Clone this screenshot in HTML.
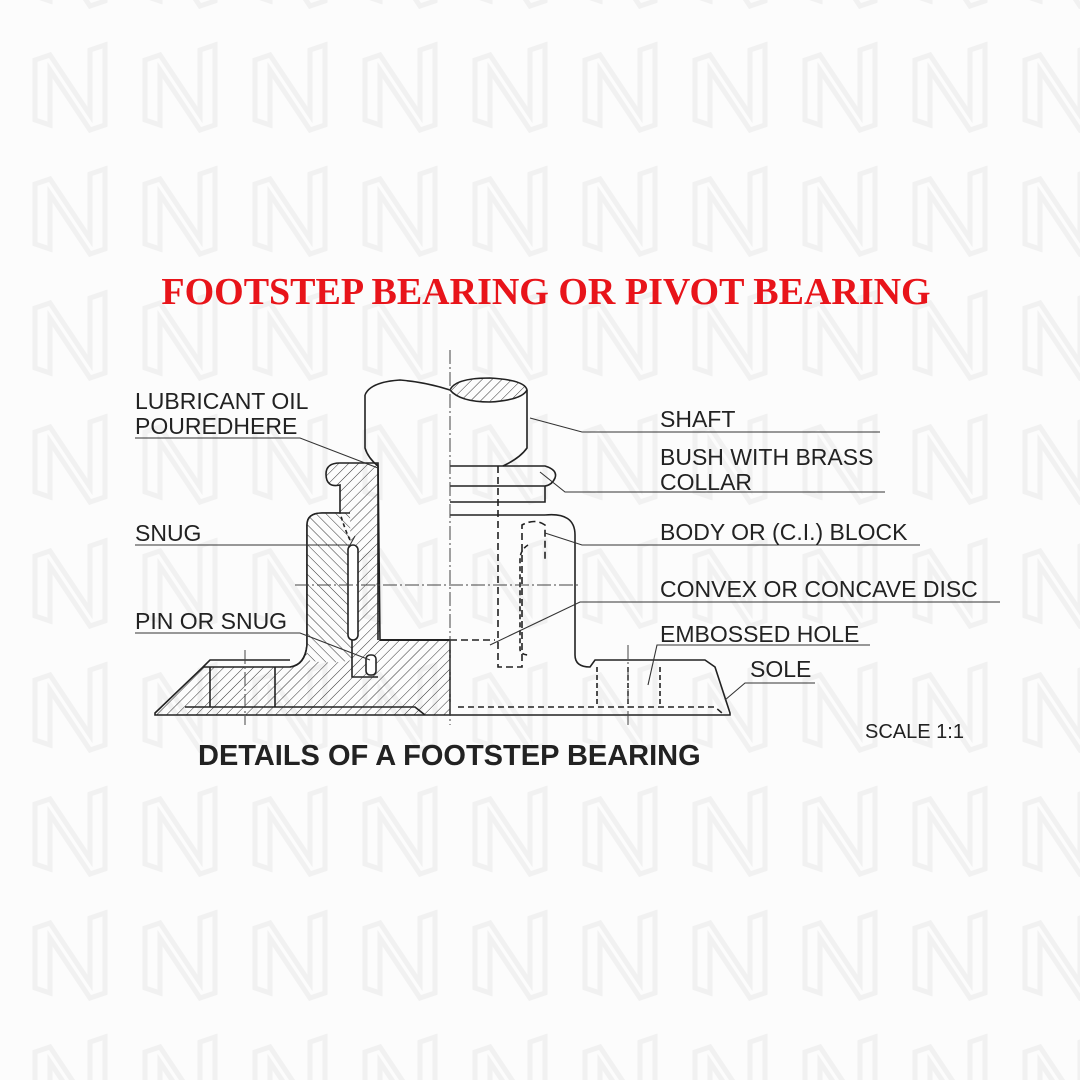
<!DOCTYPE html>
<html><head><meta charset="utf-8"><style>
html,body{margin:0;padding:0;background:#fff}
svg{display:block}
text{font-family:"Liberation Sans",sans-serif;fill:#222}
</style></head><body>
<svg width="1080" height="1080" viewBox="0 0 1080 1080" xmlns="http://www.w3.org/2000/svg">
<defs>
<pattern id="h1" width="7" height="7" patternUnits="userSpaceOnUse" patternTransform="rotate(45)"><line x1="0" y1="0" x2="0" y2="7" stroke="#333" stroke-width="1"/></pattern>
<pattern id="h2" width="7" height="7" patternUnits="userSpaceOnUse" patternTransform="rotate(-45)"><line x1="0" y1="0" x2="0" y2="7" stroke="#333" stroke-width="1"/></pattern>
<pattern id="wm" width="110" height="124" patternUnits="userSpaceOnUse" x="20" y="20">
<path d="M15 100 L15 40 L30 35 L70 95 L70 30 L85 25 L85 105 L70 110 L30 50 L30 105 Z" fill="none" stroke="#f1f1f1" stroke-width="5"/>
</pattern>
</defs>
<rect width="1080" height="1080" fill="#fcfcfc"/>
<rect width="1080" height="1080" fill="url(#wm)"/>
<text x="546" y="304" text-anchor="middle" style="font-family:'Liberation Serif',serif;font-weight:bold;font-size:38px;fill:#e8141a">FOOTSTEP BEARING OR PIVOT BEARING</text>

<g stroke="#222" stroke-width="1.6" fill="none">
<path d="M155 713 L203 667 L290 667 Q305 665 307 645 L307 525 Q307 513 322 513 L340 513 L340 485 Q326 488 326 474 Q326 463 340 463 L378 463 L380 640 L450 640 L450 715 L155 715 Z" fill="url(#h1)"/>
<path d="M307 645 L307 525 Q307 513 322 513 L350 513 L352 660 Q330 665 307 660 Z" fill="#fcfcfc" stroke="none"/>
<path d="M307 645 L307 525 Q307 513 322 513 L350 513 L352 660 Q330 665 307 660 Z" fill="url(#h2)" stroke="none"/>
<path d="M290 667 Q305 665 307 645 L307 525 Q307 513 322 513 L350 513"/>
<path d="M350 540 Q345 530 340 513" stroke-dasharray="4 3"/>
<rect x="348" y="545" width="10" height="95" rx="5" fill="#fff"/>
<rect x="366" y="655" width="10" height="20" rx="4" fill="#fff"/>
<path d="M352 640 L352 677 L378 677"/>
<path d="M380 640 L450 640" stroke-width="2"/>
<path d="M185 707 L415 707 L425 715"/>
<path d="M203 667 L210 660 L290 660"/>
<path d="M365 395 Q370 382 400 380 Q425 382 450 390" />
<path d="M450 390 Q455 378 490 378 Q525 380 527 390 Q522 400 490 402 Q460 402 450 390 Z" fill="url(#h1)"/>
<path d="M365 395 L365 448 Q368 458 378 466 L378 640"/>
<path d="M527 390 L527 448 Q520 458 503 466"/>
<path d="M450 466 L545 466 Q558 470 555 478 Q552 485 545 486 L450 486"/>
<path d="M545 486 L545 502 L450 502"/>
<path d="M545 515 L450 515"/>
<path d="M545 515 Q575 512 575 535 L575 655 Q575 667 590 667 L595 660 L705 660 L715 667 L730 713 L730 715 L450 715"/>
<path d="M458 707 L715 707 L722 713" stroke-dasharray="6 4"/>
<path d="M498 466 L498 667 L522 667 L522 525 Q535 518 545 525 L545 560" stroke-dasharray="7 4"/>
<path d="M528 545 Q520 550 520 560 L520 650 Q522 655 528 655" stroke-dasharray="5 3"/>
<path d="M450 640 L495 640" stroke-dasharray="7 4"/>
<path d="M597 667 L597 705 M628 667 L628 705 M660 667 L660 705" stroke-dasharray="5 3"/>
<path d="M210 667 L210 707 M275 667 L275 707"/>
</g>
<g stroke="#444" stroke-width="1" fill="none" stroke-dasharray="14 3 2 3">
<path d="M450 350 L450 725"/>
<path d="M295 585 L578 585"/>
<path d="M245 650 L245 725 M628 645 L628 725"/>
</g>
<g stroke="#333" stroke-width="1.1" fill="none">
<path d="M135 438 L300 438 L378 468"/>
<path d="M135 545 L350 545 L355 536"/>
<path d="M135 633 L300 633 L370 660"/>
<path d="M880 432 L582 432 L530 418"/>
<path d="M885 492 L565 492 L540 472"/>
<path d="M920 545 L582 545 L545 533"/>
<path d="M1000 602 L580 602 L490 645"/>
<path d="M870 645 L657 645 L648 685"/>
<path d="M815 683 L745 683 L725 700"/>
</g>
<g font-size="23">
<text x="135" y="409">LUBRICANT OIL</text>
<text x="135" y="434">POUREDHERE</text>
<text x="135" y="541">SNUG</text>
<text x="135" y="629">PIN OR SNUG</text>
<text x="660" y="427">SHAFT</text>
<text x="660" y="465">BUSH WITH BRASS</text>
<text x="660" y="490">COLLAR</text>
<text x="660" y="540">BODY OR (C.I.) BLOCK</text>
<text x="660" y="597">CONVEX OR CONCAVE DISC</text>
<text x="660" y="642">EMBOSSED HOLE</text>
<text x="750" y="677">SOLE</text>
</g>
<text x="865" y="738" font-size="20">SCALE 1:1</text>
<text x="198" y="765" font-size="29" font-weight="bold">DETAILS OF A FOOTSTEP BEARING</text>
</svg>
</body></html>
